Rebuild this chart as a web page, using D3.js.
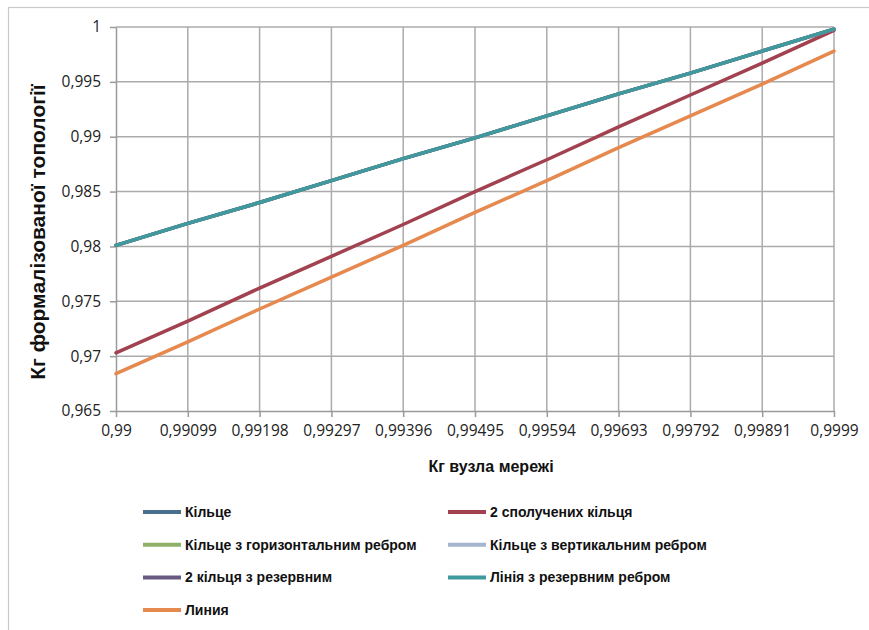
<!DOCTYPE html>
<html>
<head>
<meta charset="utf-8">
<script src="https://cdn.jsdelivr.net/npm/d3@7"></script>
<style>
  body { margin: 0; background: #fff; }
  svg { display: block; }
</style>
</head>
<body>
<div class="chart"></div>
<script>
// categories on the x axis (Кг вузла мережі)
const categories = ["0,99", "0,99099", "0,99198", "0,99297", "0,99396", "0,99495",
  "0,99594", "0,99693", "0,99792", "0,99891", "0,9999"];

// series values
const kiltse =        [0.9801, 0.9821, 0.9840, 0.9860, 0.9880, 0.9899, 0.9919, 0.9939, 0.9958, 0.9978, 0.9998];
const dvaSpoluch =    [0.9703, 0.9732, 0.9762, 0.9791, 0.9820, 0.9850, 0.9879, 0.9909, 0.9938, 0.9967, 0.9997];
const kiltseHoriz =   [0.9801, 0.9821, 0.9840, 0.9860, 0.9880, 0.9899, 0.9919, 0.9939, 0.9958, 0.9978, 0.9998];
const kiltseVert =    [0.9801, 0.9821, 0.9840, 0.9860, 0.9880, 0.9899, 0.9919, 0.9939, 0.9958, 0.9978, 0.9998];
const dvaRezerv =     [0.9801, 0.9821, 0.9840, 0.9860, 0.9880, 0.9899, 0.9919, 0.9939, 0.9958, 0.9978, 0.9998];
const liniyaRezerv =  [0.9801, 0.9821, 0.9840, 0.9860, 0.9880, 0.9899, 0.9919, 0.9939, 0.9958, 0.9978, 0.9998];
const liniya =        [0.9684, 0.9713, 0.9743, 0.9772, 0.9801, 0.9831, 0.9860, 0.9890, 0.9919, 0.9948, 0.9978];

const yTicks = [0.965, 0.97, 0.975, 0.98, 0.985, 0.99, 0.995, 1];
const yTickLabels = ["0,965", "0,97", "0,975", "0,98", "0,985", "0,99", "0,995", "1"];

const series = [
  { name: "Кільце", values: kiltse, color: "#4a6f8c" },
  { name: "2 сполучених кільця", values: dvaSpoluch, color: "#a2414f" },
  { name: "Кільце з горизонтальним ребром", values: kiltseHoriz, color: "#8fb067" },
  { name: "Кільце з вертикальним ребром", values: kiltseVert, color: "#a3b5cf" },
  { name: "2 кільця з резервним", values: dvaRezerv, color: "#6a5a82" },
  { name: "Лінія з резервним ребром", values: liniyaRezerv, color: "#3f999d" },
  { name: "Линия", values: liniya, color: "#e6894f" }
];

const W = 869, H = 630;
const margin = { top: 27, right: 35, bottom: 219, left: 116 };
const width = W - margin.left - margin.right,
  height = H - margin.top - margin.bottom;

const svg = d3.select(".chart")
  .append("svg")
  .attr("width", W)
  .attr("height", H);

// outer frame
svg.append("rect")
  .attr("x", 8.5).attr("y", 7.5)
  .attr("width", W + 10).attr("height", H + 10)
  .attr("fill", "none")
  .attr("stroke", "#c8c8c8")
  .attr("stroke-width", 1.2);

const g = svg.append("g")
  .attr("transform", `translate(${margin.left}, ${margin.top})`);

const x = d3.scalePoint().domain(categories).range([0, width]);
const y = d3.scaleLinear().domain([0.965, 1]).range([height, 0]);

// gridlines
g.append("g").selectAll("line")
  .data(yTicks.slice(1))
  .enter().append("line")
  .attr("x1", 0).attr("x2", width)
  .attr("y1", d => y(d)).attr("y2", d => y(d))
  .attr("stroke", "#ababab").attr("stroke-width", 1.5);

g.append("g").selectAll("line")
  .data(categories.slice(1))
  .enter().append("line")
  .attr("x1", d => x(d)).attr("x2", d => x(d))
  .attr("y1", 0).attr("y2", height)
  .attr("stroke", "#ababab").attr("stroke-width", 1.5);

// axes
const xAxis = g.append("g")
  .attr("transform", `translate(0, ${height})`)
  .call(d3.axisBottom(x).tickSize(6).tickSizeOuter(0).tickPadding(8));
const yAxis = g.append("g")
  .call(d3.axisLeft(y).tickValues(yTicks)
    .tickFormat((d, i) => yTickLabels[i]).tickSize(6).tickSizeOuter(0).tickPadding(9));

[xAxis, yAxis].forEach(a => {
  a.select(".domain").attr("stroke", "#9a9a9a").attr("stroke-width", 1.5);
  a.selectAll(".tick line").attr("stroke", "#9a9a9a").attr("stroke-width", 1.5);
  a.selectAll("text")
    .attr("fill", "#222")
    .style("font-family", "'Open Sans', sans-serif")
    .style("font-size", "15.5px");
});

// lines
const line = d3.line()
  .x((d, i) => x(categories[i]))
  .y(d => y(d));

g.append("g").selectAll("path")
  .data(series)
  .enter().append("path")
  .attr("d", d => line(d.values))
  .attr("fill", "none")
  .attr("stroke", d => d.color)
  .attr("stroke-width", 3.5)
  .attr("stroke-linecap", "round");

// axis titles
svg.append("text")
  .attr("x", 491).attr("y", 472)
  .attr("text-anchor", "middle")
  .style("font-family", "'Liberation Sans', Arial, sans-serif")
  .style("font-weight", "bold")
  .style("font-size", "16px")
  .attr("fill", "#111")
  .text("Кг вузла мережі");

svg.append("text")
  .attr("transform", "translate(45, 232) rotate(-90)")
  .attr("text-anchor", "middle")
  .style("font-family", "'Liberation Sans', Arial, sans-serif")
  .style("font-weight", "bold")
  .style("font-size", "21px")
  .attr("fill", "#111")
  .text("Кг формалізованої топології");

// legend
const legend = svg.append("g").attr("class", "legend");
const legItems = legend.selectAll("g")
  .data(series)
  .enter().append("g")
  .attr("transform", (d, i) =>
    `translate(${i % 2 === 0 ? 143 : 448}, ${512 + Math.floor(i / 2) * 32.7})`);

legItems.append("line")
  .attr("x1", 0).attr("x2", 38)
  .attr("y1", 0).attr("y2", 0)
  .attr("stroke", d => d.color)
  .attr("stroke-width", 4);

legItems.append("text")
  .attr("x", 42).attr("y", 5)
  .style("font-family", "'Liberation Sans', Arial, sans-serif")
  .style("font-weight", "bold")
  .style("font-size", "14px")
  .attr("fill", "#111")
  .text(d => d.name);
</script>
</body>
</html>
